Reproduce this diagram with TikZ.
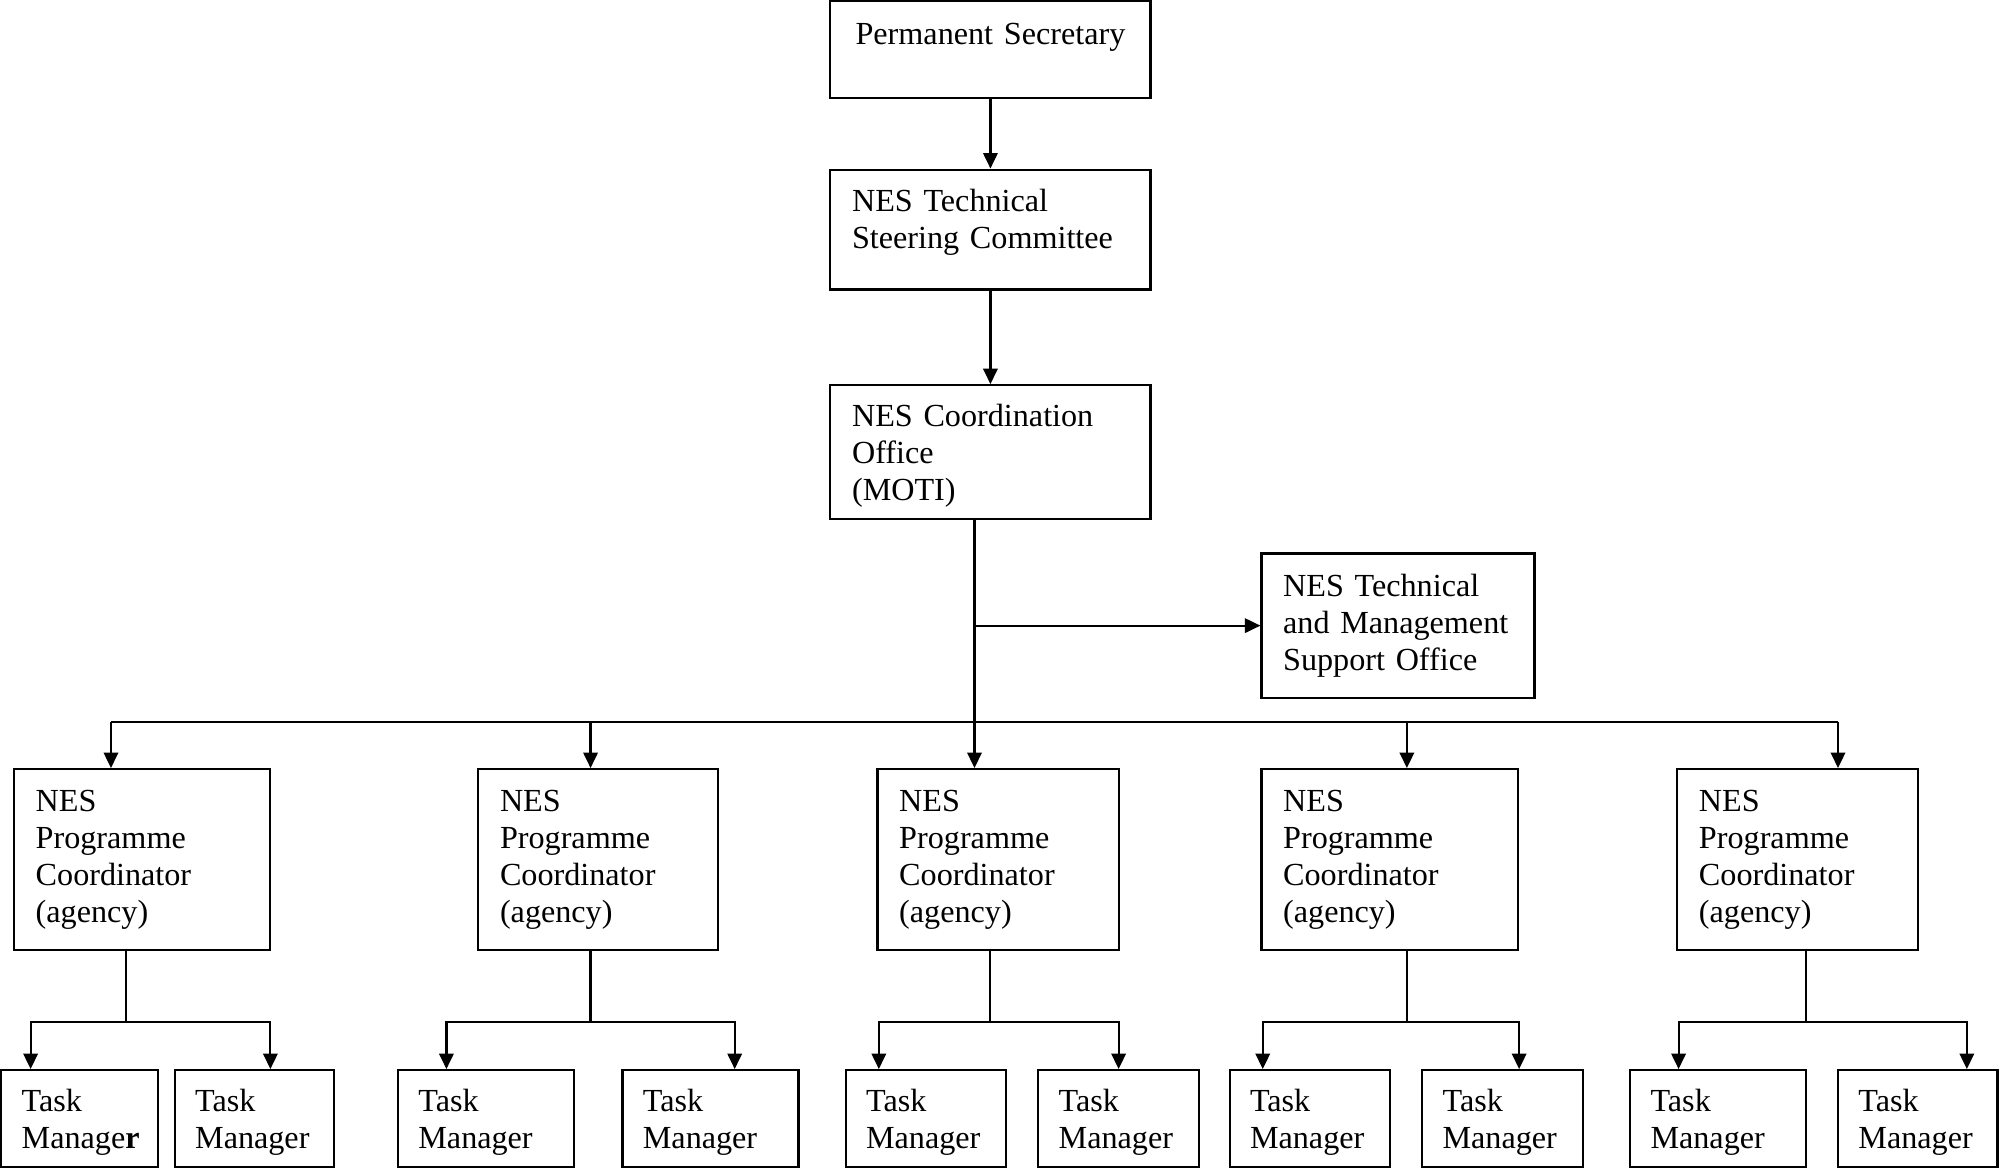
\documentclass[tikz,border=0pt]{standalone}
\usepackage{fontspec}
\setmainfont{Liberation Serif}
\usetikzlibrary{arrows.meta,positioning}

\begin{document}
\begin{tikzpicture}[
	%	style def
    x=0.4758pt, y=-0.4758pt,
    org box/.style={draw, rectangle, line width=0.8pt, align=left,
        inner xsep=8.09pt, inner ysep=0pt,
        font=\fontsize{12pt}{13.8pt}\selectfont},
    coord box/.style={org box, minimum height=67.56pt},
    task box/.style={org box, inner xsep=7.61pt, minimum height=36.16pt},
    link/.style={line width=0.8pt},
    arrow line/.style={link, -{Triangle[length=5.8pt,width=5.4pt]}}
    ]
    \useasboundingbox (0,0) rectangle (1568,916);

    % top of the chain
    \node[org box, align=center, text width=103.25pt, minimum height=36.16pt] (secretary) at (776.5,39) {\rule{0pt}{10pt}Permanent Secretary\\\mbox{}};
    \node[org box, text width=103.25pt, minimum height=44.73pt] (steering) at (776.5,180) {\rule{0pt}{10pt}NES Technical\\Steering Committee\\[-4pt]\mbox{}};
    \node[org box, text width=103.25pt, minimum height=49.96pt] (office) at (776.5,354.5) {\rule{0pt}{11pt}NES Coordination\\Office\\(MOTI)};
    \node[org box, text width=85.64pt, minimum height=53.77pt] (support) at (1096,490.5) {NES Technical\\and Management\\Support Office};

    % programme coordinators
    \node[coord box, text width=79.46pt] (pc1) at (111.5,674) {NES\\Programme\\Coordinator\\(agency)};
    \node[coord box, text width=73.27pt] (pc2) at (469,674) {NES\\Programme\\Coordinator\\(agency)};
    \node[coord box, text width=73.75pt] (pc3) at (782.5,674) {NES\\Programme\\Coordinator\\(agency)};
    \node[coord box, text width=79.46pt] (pc4) at (1089.5,674) {NES\\Programme\\Coordinator\\(agency)};
    \node[coord box, text width=73.75pt] (pc5) at (1409.5,674) {NES\\Programme\\Coordinator\\(agency)};

    % task managers
    \node[task box, text width=43.30pt] (tmL1) at (62.5,877) {\rule{0pt}{11pt}Task\\Manage\textbf{r}};
    \node[task box, text width=44.25pt] (tmR1) at (199.5,877) {\rule{0pt}{11pt}Task\\Manager};
    \node[task box, text width=50.43pt] (tmL2) at (381,877) {\rule{0pt}{11pt}Task\\Manager};
    \node[task box, text width=50.43pt] (tmR2) at (557,877) {\rule{0pt}{11pt}Task\\Manager};
    \node[task box, text width=44.73pt] (tmL3) at (726,877) {\rule{0pt}{11pt}Task\\Manager};
    \node[task box, text width=44.73pt] (tmR3) at (877,877) {\rule{0pt}{11pt}Task\\Manager};
    \node[task box, text width=44.73pt] (tmL4) at (1027,877) {\rule{0pt}{11pt}Task\\Manager};
    \node[task box, text width=44.73pt] (tmR4) at (1178,877) {\rule{0pt}{11pt}Task\\Manager};
    \node[task box, text width=50.43pt] (tmL5) at (1347,877) {\rule{0pt}{11pt}Task\\Manager};
    \node[task box, text width=44.25pt] (tmR5) at (1503.5,877) {\rule{0pt}{11pt}Task\\Manager};

    \draw[arrow line] (secretary) -- (steering);
    \draw[arrow line] (steering) -- (office);

    % trunk, side branch and bus
    \coordinate (branch) at (764,490.5);
    \coordinate (bus1) at (87,566);
    \coordinate (bus2) at (463,566);
    \coordinate (bus3) at (764,566);
    \coordinate (bus4) at (1103,566);
    \coordinate (bus5) at (1441,566);
    \draw[arrow line] (office.south -| bus3) -- (bus3 |- pc3.north);
    \draw[arrow line] (branch) -- (support.west);
    \draw[link] (bus1) -- (bus5);
    \foreach \i in {1,2,4,5}
        \draw[arrow line] (bus\i) -- (bus\i |- pc\i.north);

    % forks down to the task managers
    \foreach \i/\xm/\xl/\xr in {1/99/24/212, 2/463/350/576, 3/776/689/877, 4/1103/990/1191, 5/1416/1316/1542} {
        \coordinate (fork\i) at (\xm,801);
        \coordinate (forkL\i) at (\xl,801);
        \coordinate (forkR\i) at (\xr,801);
        \draw[link] (pc\i.south -| fork\i) -- (fork\i);
        \draw[arrow line] (fork\i) -- (forkL\i) -- (forkL\i |- tmL\i.north);
        \draw[arrow line] (fork\i) -- (forkR\i) -- (forkR\i |- tmR\i.north);
    }

\end{tikzpicture}
\end{document}
